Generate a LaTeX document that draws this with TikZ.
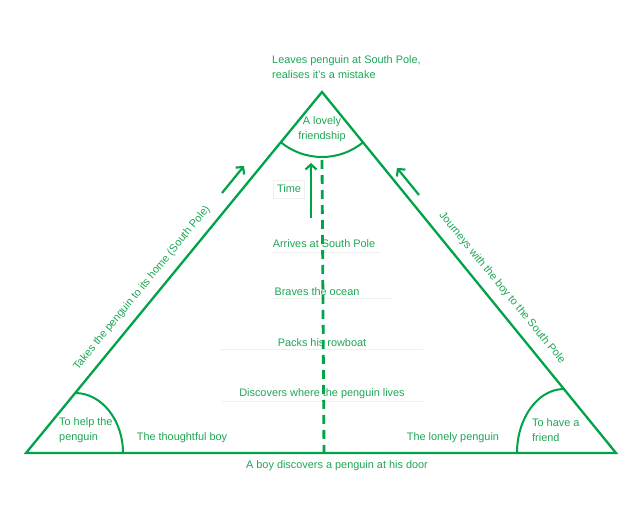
\documentclass[tikz,border=0pt]{standalone}
\usepackage{fontspec}
\setmainfont{Liberation Sans}
\usetikzlibrary{arrows.meta}
\definecolor{grn}{RGB}{0,163,72}
\definecolor{txtgrn}{RGB}{30,165,85}
\definecolor{faint}{RGB}{236,240,238}
\begin{document}
\begin{tikzpicture}[x=1pt,y=-1pt,
  edge/.style={draw=grn,line width=2.3pt,line join=miter},
  thin edge/.style={draw=grn,line width=2pt},
  timeline/.style={draw=grn,line width=2.8pt,dash pattern=on 9pt off 6pt},
  arr/.style={draw=grn,line width=2.2pt,-{Straight Barb[length=5pt,width=11pt,line width=2.2pt]}},
  lbl/.style={text=txtgrn,font=\fontsize{10.9}{15}\selectfont,inner sep=0pt},
  ghost/.style={draw=faint,line width=0.7pt}]
\useasboundingbox (0,0) rectangle (640,510);
% triangle
\coordinate (A) at (322,92);
\coordinate (L) at (26,453);
\coordinate (R) at (616,453);
\draw[edge] (L) -- (A) -- (R) -- cycle;
% corner arcs
\coordinate (lt) at (75,393);
\coordinate (lb) at (123,453);
\coordinate (rt) at (564,389);
\coordinate (rb) at (517,453);
\draw[thin edge] (A) ++(129.4:65) arc[start angle=129.4,end angle=50.6,radius=65];
\draw[thin edge] (lt) .. controls (101.5,393) and (123,420) .. (lb);
\draw[thin edge] (rt) .. controls (538,389) and (517,418) .. (rb);
% faint guide lines
\coordinate (g1a) at (272,252); \coordinate (g1b) at (380,252);
\coordinate (g2a) at (272,298); \coordinate (g2b) at (392,298);
\coordinate (g3a) at (220,349); \coordinate (g3b) at (423,349);
\coordinate (g4a) at (222,401); \coordinate (g4b) at (423,401);
\draw[ghost] (g1a) -- (g1b);
\draw[ghost] (g2a) -- (g2b);
\draw[ghost] (g3a) -- (g3b);
\draw[ghost] (g4a) -- (g4b);
\draw[ghost] (273,180) rectangle (304,198);
% timeline
\coordinate (ttop) at (322,160);
\coordinate (tbot) at (324,453);
\draw[timeline] (ttop) -- (tbot);
% time arrow
\coordinate (ta0) at (311,218);
\coordinate (ta1) at (311,163);
\draw[arr] (ta0) -- (ta1);
% side arrows
\coordinate (la0) at (222,193);
\coordinate (la1) at (244,166);
\draw[arr] (la0) -- (la1);
\coordinate (ra0) at (419,195);
\coordinate (ra1) at (397,168);
\draw[arr] (ra0) -- (ra1);
% texts
\node[lbl,align=left,anchor=west] (top) at (272,67.5) {Leaves penguin at South Pole,\\realises it’s a mistake};
\node[lbl,align=center] (friend) at (322,129.5) {A lovely\\friendship};
\node[lbl] (time) at (289,189) {Time};
\node[lbl] (arr1) at (324,244) {Arrives at South Pole};
\node[lbl] (brav) at (317,292) {Braves the ocean};
\node[lbl] (pack) at (322,343) {Packs his rowboat};
\node[lbl] (disc) at (322,394) {Discovers where the penguin lives};
\node[lbl] (base) at (337,466) {A boy discovers a penguin at his door};
\node[lbl] (boy) at (182,438) {The thoughtful boy};
\node[lbl] (peng) at (453,438) {The lonely penguin};
\node[lbl,align=left,anchor=west] (help) at (59,430.5) {To help the\\penguin};
\node[lbl,align=left,anchor=west] (have) at (532,430.5) {To have a\\friend};
\node[lbl,rotate=50.6] (lside) at (142,288) {Takes the penguin to its home (South Pole)};
\node[lbl,rotate=-50.6] (rside) at (502,288) {Journeys with the boy to the South Pole};
\end{tikzpicture}
\end{document}
